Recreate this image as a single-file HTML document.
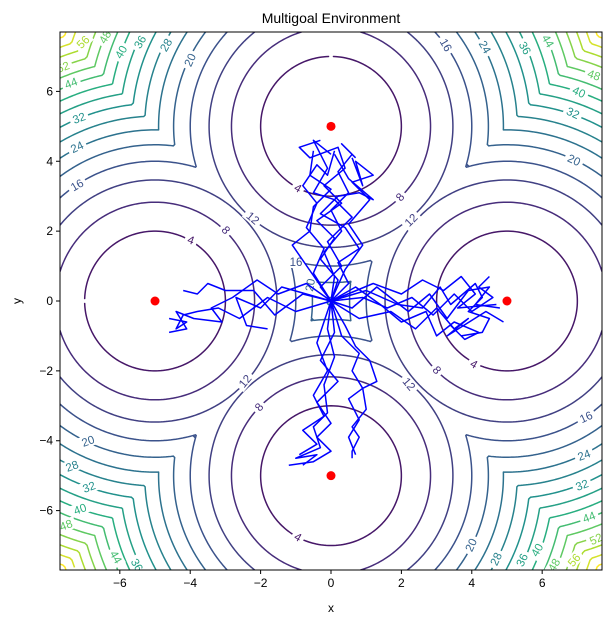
<!DOCTYPE html>
<html><head><meta charset="utf-8">
<style>
html,body{margin:0;padding:0;background:#fff;}
svg{display:block;font-family:"Liberation Sans","DejaVu Sans",sans-serif;}
</style></head>
<body>
<svg id="chart" width="612" height="624" viewBox="0 0 612 624">
  <text x="331" y="23" text-anchor="middle" font-size="14" fill="#000">Multigoal Environment</text>
  <g id="contours"></g>
  <g id="clabels"></g>
  <g id="trajs"></g>
  <g id="goals"></g>
  <rect x="60" y="32" width="542" height="538" fill="none" stroke="#000" stroke-width="1"/>
  <g id="axes"></g>
  <text x="331" y="612" text-anchor="middle" font-size="12">x</text>
  <text x="21" y="301" text-anchor="middle" font-size="12" transform="rotate(-90 21 301)">y</text>
</svg>
<script>
const goalsX = [5, -5, 0, 0];
const goalsY = [0, 0, 5, -5];
const levels = [4,8,12,16,20,24,28,32,36,40,44,48,52,56,60,64];
const xTicks = [-6,-4,-2,0,2,4,6];
const yTicks = [-6,-4,-2,0,2,4,6];
const labelText = ["56","48","52","44","40","36","28","20","32","24","16","12","8","4",
 "16","24","36","44","48","40","32","20","12","8","4",
 "4","8","12","16","24","32","44","52","20","28","36","40","48","56",
 "4","8","12","20","28","32","40","48","56","44","36","24","16",
 "16","20"];
const labelPX = [83,105,63,71,121,140,166,190,79,77,77,253,226,191,
 446,485,525,548,594,579,573,574,411,400,298,
 474,437,409,586,584,582,589,596,471,496,522,537,554,574,
 298,259,245,88,72,89,80,66,70,116,137,178,216,
 296,310];
const labelPY = [42,37,67,83,52,42,45,60,118,147,185,218,230,240,
 45,47,48,41,75,92,113,160,220,197,188,
 364,370,384,417,455,485,517,539,545,559,560,550,565,560,
 537,407,381,441,466,487,509,525,577,557,565,580,582,
 262,285];
const labelRot = [-45,-60,-20,-20,-60,-60,-60,-65,-20,-25,-30,40,50,20,
 60,60,60,60,20,25,25,25,-45,-50,30,
 30,50,50,-25,-20,-20,-20,-25,-65,-65,-65,-60,-60,-50,
 30,-50,-50,-20,-20,-20,-20,-20,-30,60,60,60,60,
 0,-80];
const trajectories = [
 [[0,0],[0.2,0.6],[-0.3,1.2],[0.1,1.8],[-0.4,2.3],[0.3,2.8],[-0.2,3.3],[0.4,3.8],[0.2,4.4],[-0.6,4.1],[-0.9,4.4],[-0.3,4.6]],
 [[0,0],[0.4,0.9],[0.9,1.6],[0.5,2.2],[1.1,2.9],[0.6,3.4],[1.2,3.6],[0.7,4.0],[0.9,3.3],[0.6,4.1]],
 [[0,0],[-0.5,0.8],[-0.2,1.5],[-0.7,2.1],[-0.4,2.8],[-0.8,3.3],[-0.4,3.9],[-0.1,3.6],[0.1,4.3]],
 [[0,0],[-1.1,1.6],[-0.6,2.0],[-0.5,2.7],[0.0,3.2],[-0.6,3.6],[-0.5,4.3]],
 [[0,0],[0.1,0.7],[-0.2,1.4],[0.3,2.0],[0.0,2.6],[0.5,3.1],[0.2,3.7],[0.6,4.2],[0.3,4.5],[0.7,4.1]],
 [[0,0],[0.5,0.5],[0.2,1.1],[0.8,1.5],[0.4,2.1],[-0.3,2.5],[0.2,3.0],[0.8,3.1],[1.2,2.9],[0.5,3.5],[0.1,4.2]],
 [[0,0],[-0.3,0.4],[0.3,1.0],[-0.1,1.7],[0.6,2.4],[0.1,2.9],[-0.5,3.1],[-0.1,3.8],[-0.5,4.6],[0.0,4.2]],
 [[0,0],[-0.1,-0.8],[0.1,-1.6],[-0.2,-2.4],[-0.1,-3.2],[-0.5,-3.6],[-0.3,-4.2],[-1.0,-4.5],[-0.4,-4.4],[-0.8,-4.7]],
 [[0,0],[0.3,-1.0],[0.8,-1.5],[0.6,-2.0],[0.9,-2.5],[0.5,-2.8],[0.8,-3.4],[0.5,-3.9],[0.7,-4.4]],
 [[0,0],[-0.4,-1.2],[-0.1,-2.0],[-0.5,-2.7],[-0.2,-3.3],[-0.8,-3.7],[-0.4,-4.1],[-0.9,-4.4]],
 [[0,0],[0.1,-0.9],[-0.3,-1.7],[0.2,-2.3],[-0.4,-2.9],[0.0,-3.5],[-0.4,-3.9],[0.0,-4.3],[-0.5,-4.6],[-1.2,-4.7]],
 [[0,0],[0.4,-0.7],[0.7,-1.3],[1.1,-1.7],[1.3,-2.3],[0.9,-2.5],[1.0,-3.1],[0.6,-3.6],[0.8,-3.9],[0.6,-4.3],[0.6,-4.5]],
 [[0,0],[-0.8,0.2],[-1.6,-0.4],[-2.2,0.3],[-3.0,0.3],[-3.5,0.5],[-3.8,0.2],[-4.2,0.3]],
 [[0,0],[-1.0,-0.3],[-1.8,0.1],[-2.6,-0.5],[-3.2,-0.2],[-3.8,-0.3],[-4.2,-0.4],[-4.4,-0.8],[-4.1,-0.6],[-4.6,-0.5]],
 [[0,0],[-1.4,0.4],[-2.0,-0.2],[-2.7,0.1],[-2.4,-0.7],[-1.8,-0.8]],
 [[0,0],[-0.7,0.5],[-1.5,0.2],[-2.1,0.6],[-2.8,0.1],[-3.4,-0.2],[-3.1,-0.6],[-3.9,-0.5],[-4.4,-0.3],[-4.1,-0.8],[-4.6,-0.9]],
 [[0,0],[0.9,0.1],[1.6,-0.2],[2.3,0.1],[2.9,-0.4],[3.5,0.2],[4.0,-0.3],[4.6,0.1],[4.2,0.4],[4.5,0.7]],
 [[0,0],[0.8,-0.5],[1.7,-0.3],[2.4,-0.8],[3.0,-0.2],[3.5,-0.8],[3.9,-0.5],[3.3,-1.0],[4.4,-0.3],[4.9,-0.6]],
 [[0,0],[1.2,0.5],[2.0,0.2],[2.6,0.6],[3.2,0.3],[3.7,0.7],[4.1,0.2],[3.6,-0.2],[4.7,-0.1]],
 [[0,0],[0.7,0.4],[1.4,-0.1],[2.0,-0.6],[2.7,-0.3],[3.0,-1.0],[3.5,-0.6],[4.2,-0.9],[3.8,-1.1],[3.4,-0.7]],
 [[0,0],[1.0,0.3],[1.9,-0.1],[2.6,-0.2],[3.1,0.4],[3.4,-0.1],[4.1,0.5],[4.3,0.1],[3.9,-0.3],[4.5,-0.5],[4.3,-0.9],[3.7,-1.0]],
 [[0,0],[0.6,-0.2],[1.3,0.4],[2.2,-0.3],[2.8,0.2],[3.3,-0.5],[3.9,0.3],[4.5,0.4],[4.1,-0.1],[4.8,-0.2]]
];

const NS = "http://www.w3.org/2000/svg";
const X0=60, X1=602, Y0=32, Y1=570, LIM=7.7;
const sx = v => X0 + (v + LIM) / (2*LIM) * (X1 - X0);
const sy = v => Y0 + (LIM - v) / (2*LIM) * (Y1 - Y0);
const stops = [[0,"#440154"],[.125,"#472d7b"],[.25,"#3b528b"],[.375,"#2c728e"],[.5,"#21918c"],[.625,"#28ae80"],[.75,"#5ec962"],[.875,"#addc30"],[1,"#fde725"]];
function hex(h){return [1,3,5].map(i=>parseInt(h.substr(i,2),16));}
function viridis(t){
  t=Math.max(0,Math.min(1,t));
  for(let i=0;i<stops.length-1;i++){
    if(t<=stops[i+1][0]){
      const a=hex(stops[i][1]),b=hex(stops[i+1][1]);
      const f=(t-stops[i][0])/(stops[i+1][0]-stops[i][0]);
      return "rgb("+a.map((v,k)=>Math.round(v+(b[k]-v)*f)).join(",")+")";
    }
  }
  return stops[stops.length-1][1];
}
function cost(x,y){
  let m=Infinity;
  for(let i=0;i<goalsX.length;i++){const d=(x-goalsX[i])**2+(y-goalsY[i])**2; if(d<m)m=d;}
  return m;
}
const N=220, h=2*LIM/N;
const G=[];
for(let j=0;j<=N;j++){G[j]=[];for(let i=0;i<=N;i++){G[j][i]=cost(-LIM+i*h, LIM-j*h);}}
const cg=document.getElementById("contours");
levels.forEach(L=>{
  let d="";
  for(let j=0;j<N;j++)for(let i=0;i<N;i++){
    const a=G[j][i],b=G[j][i+1],c=G[j+1][i+1],e=G[j+1][i];
    const xl=-LIM+i*h, yt=LIM-j*h;
    const pts=[];
    if((a-L)*(b-L)<0){const t=(L-a)/(b-a);pts.push([xl+t*h,yt]);}
    if((b-L)*(c-L)<0){const t=(L-b)/(c-b);pts.push([xl+h,yt-t*h]);}
    if((e-L)*(c-L)<0){const t=(L-e)/(c-e);pts.push([xl+t*h,yt-h]);}
    if((a-L)*(e-L)<0){const t=(L-a)/(e-a);pts.push([xl,yt-t*h]);}
    for(let k=0;k+1<pts.length;k+=2){
      d+="M"+sx(pts[k][0]).toFixed(2)+" "+sy(pts[k][1]).toFixed(2)+"L"+sx(pts[k+1][0]).toFixed(2)+" "+sy(pts[k+1][1]).toFixed(2);
    }
  }
  if(!d) return;
  const p=document.createElementNS(NS,"path");
  p.setAttribute("d",d);
  p.setAttribute("stroke",viridis(L/64));
  p.setAttribute("stroke-width","1.5");
  p.setAttribute("fill","none");
  p.setAttribute("stroke-linecap","round");
  
  
  cg.appendChild(p);
});
const defs=document.createElementNS(NS,"defs");
defs.innerHTML='<clipPath id="pc"><rect x="60" y="32" width="542" height="538"/></clipPath>';
document.getElementById("chart").prepend(defs);
cg.setAttribute("clip-path","url(#pc)");
const lg=document.getElementById("clabels");
lg.setAttribute("clip-path","url(#pc)");
labelText.forEach((t,k)=>{
  const g=document.createElementNS(NS,"g");
  g.setAttribute("transform","translate("+labelPX[k]+","+labelPY[k]+") rotate("+labelRot[k]+")");
  
  
  const w=t.length*6.5+6;
  const r=document.createElementNS(NS,"rect");
  r.setAttribute("x",-w/2);r.setAttribute("y",-6);r.setAttribute("width",w);r.setAttribute("height",12);
  r.setAttribute("fill","#fff");
  g.appendChild(r);
  const tx=document.createElementNS(NS,"text");
  tx.setAttribute("x",0);tx.setAttribute("y",4);
  tx.setAttribute("text-anchor","middle");
  tx.setAttribute("font-size","11.5");
  tx.setAttribute("fill",viridis(parseInt(t)/64));
  tx.textContent=t;
  g.appendChild(tx);
  lg.appendChild(g);
});
const tg=document.getElementById("trajs");
trajectories.forEach((tr,k)=>{
  const p=document.createElementNS(NS,"polyline");
  p.setAttribute("points",tr.map(q=>sx(q[0]).toFixed(1)+","+sy(q[1]).toFixed(1)).join(" "));
  p.setAttribute("fill","none");p.setAttribute("stroke","#0000ff");p.setAttribute("stroke-width","1.5");
  p.setAttribute("stroke-linejoin","round");
  
  
  tg.appendChild(p);
});
const gg=document.getElementById("goals");
goalsX.forEach((gx,k)=>{
  const c=document.createElementNS(NS,"circle");
  c.setAttribute("cx",sx(gx));c.setAttribute("cy",sy(goalsY[k]));c.setAttribute("r","4.5");c.setAttribute("fill","#ff0000");
  
  
  gg.appendChild(c);
});
const ag=document.getElementById("axes");
const fmt=v=>v<0?"\u2212"+(-v):String(v);
xTicks.forEach(v=>{
  const l=document.createElementNS(NS,"line");
  l.setAttribute("x1",sx(v));l.setAttribute("x2",sx(v));l.setAttribute("y1",Y1);l.setAttribute("y2",Y1+4);l.setAttribute("stroke","#000");
  
  
  ag.appendChild(l);
  const t=document.createElementNS(NS,"text");
  t.setAttribute("x",sx(v));t.setAttribute("y",Y1+17);t.setAttribute("text-anchor","middle");t.setAttribute("font-size","12");
  t.textContent=fmt(v);
  
  
  ag.appendChild(t);
});
yTicks.forEach(v=>{
  const l=document.createElementNS(NS,"line");
  l.setAttribute("x1",X0-4);l.setAttribute("x2",X0);l.setAttribute("y1",sy(v));l.setAttribute("y2",sy(v));l.setAttribute("stroke","#000");
  
  
  ag.appendChild(l);
  const t=document.createElementNS(NS,"text");
  t.setAttribute("x",X0-7);t.setAttribute("y",sy(v)+4);t.setAttribute("text-anchor","end");t.setAttribute("font-size","12");
  t.textContent=fmt(v);
  
  
  ag.appendChild(t);
});
</script>
</body></html>
